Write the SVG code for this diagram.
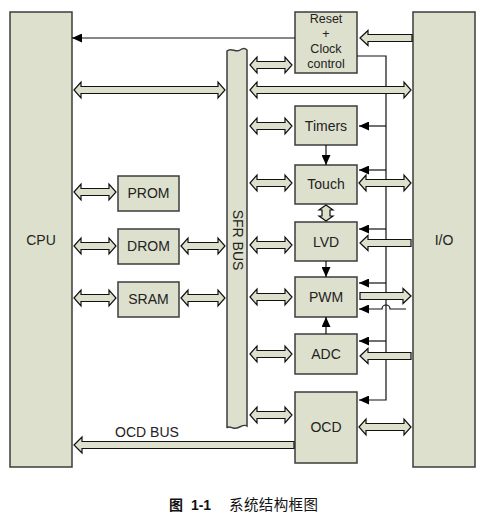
<svg xmlns="http://www.w3.org/2000/svg" width="486" height="515" viewBox="0 0 486 515">
<defs>
<style>
.box{fill:#dde0cc;stroke:#3c3c3c;stroke-width:1.5}
.ha{fill:#dde0cc;stroke:#111;stroke-width:1.2;stroke-linejoin:miter}
.ln{fill:none;stroke:#111;stroke-width:1.2}
.t{font-family:"Liberation Sans",Arial,sans-serif;font-size:14px;fill:#222;text-anchor:middle}
.rs{font-size:12.5px}
</style>
<marker id="ah" markerWidth="10" markerHeight="9" refX="10" refY="4.5" orient="auto" markerUnits="userSpaceOnUse"><path d="M0,0 L10,4.5 L0,9 Z" fill="#000"/></marker>
</defs>
<rect width="486" height="515" fill="#fff"/>

<g id="cpu"><rect class="box" x="10" y="12" width="62" height="455"/><text class="t" x="41" y="245">CPU</text></g>
<g id="io"><rect class="box" x="413" y="12" width="62" height="455"/><text class="t" x="444" y="245">I/O</text></g>
<g id="sfrbus"><path class="box" d="M227,51 C231,47 236,53 240,50 C243,48 245,48 247,50 L247,426 C243,423 238,430 233,428 C230,427 228,426 227,428 Z"/><text class="t" transform="translate(233,240) rotate(90)">SFR  BUS</text></g>
<g id="reset"><rect class="box" x="295" y="12" width="62" height="61"/>
<text class="t rs" x="326" y="23">Reset</text><text class="t rs" x="326" y="38">+</text><text class="t rs" x="326" y="53">Clock</text><text class="t rs" x="326" y="68">control</text></g>
<g id="timers"><rect class="box" x="295" y="106" width="62" height="39"/><text class="t" x="326" y="131">Timers</text></g>
<g id="touch"><rect class="box" x="295" y="165" width="62" height="39"/><text class="t" x="326" y="189">Touch</text></g>
<g id="lvd"><rect class="box" x="295" y="222" width="62" height="39"/><text class="t" x="326" y="247">LVD</text></g>
<g id="pwm"><rect class="box" x="295" y="277" width="62" height="40"/><text class="t" x="326" y="302">PWM</text></g>
<g id="adc"><rect class="box" x="295" y="334" width="62" height="40"/><text class="t" x="326" y="359">ADC</text></g>
<g id="ocd"><rect class="box" x="295" y="392" width="62" height="71"/><text class="t" x="326" y="432">OCD</text></g>
<g id="prom"><rect class="box" x="118" y="176" width="61" height="35"/><text class="t" x="148.5" y="198">PROM</text></g>
<g id="drom"><rect class="box" x="118" y="229" width="61" height="35"/><text class="t" x="148.5" y="251">DROM</text></g>
<g id="sram"><rect class="box" x="118" y="282" width="61" height="35"/><text class="t" x="148.5" y="304">SRAM</text></g>

<g id="connectors">
<path class="ln" d="M295,38 H72" marker-end="url(#ah)"/>
<path class="ln" d="M357,56 H386 V400 H359" marker-end="url(#ah)"/>
<path class="ln" d="M386,126 H359" marker-end="url(#ah)"/>
<path class="ln" d="M386,170 H359" marker-end="url(#ah)"/>
<path class="ln" d="M386,229 H359" marker-end="url(#ah)"/>
<path class="ln" d="M386,283 H359" marker-end="url(#ah)"/>
<path class="ln" d="M386,341 H359" marker-end="url(#ah)"/>
<path class="ln" d="M406,309 H390 A4,4 0 0 0 382,309 H359" marker-end="url(#ah)"/>
<path class="ln" d="M326,145 V165" marker-end="url(#ah)"/>
<path class="ln" d="M326,261 V277" marker-end="url(#ah)"/>
<path class="ln" d="M326,334 V317" marker-end="url(#ah)"/>

<path class="ha" d="M74,90 L81,82 L81,86.5 L218,86.5 L218,82 L225,90 L218,98 L218,93.5 L81,93.5 L81,98 Z"/>
<path class="ha" d="M250,90 L257,82 L257,86.5 L404,86.5 L404,82 L411,90 L404,98 L404,93.5 L257,93.5 L257,98 Z"/>
<path class="ha" d="M250,65 L257,57 L257,61.5 L285,61.5 L285,57 L292,65 L285,73 L285,68.5 L257,68.5 L257,73 Z"/>
<path class="ha" d="M250,126 L257,118 L257,122.5 L285,122.5 L285,118 L292,126 L285,134 L285,129.5 L257,129.5 L257,134 Z"/>
<path class="ha" d="M250,183 L257,175 L257,179.5 L285,179.5 L285,175 L292,183 L285,191 L285,186.5 L257,186.5 L257,191 Z"/>
<path class="ha" d="M359,183 L366,175 L366,179.5 L404,179.5 L404,175 L411,183 L404,191 L404,186.5 L366,186.5 L366,191 Z"/>
<path class="ha" d="M250,245 L257,237 L257,241.5 L285,241.5 L285,237 L292,245 L285,253 L285,248.5 L257,248.5 L257,253 Z"/>
<path class="ha" d="M250,297 L257,289 L257,293.5 L285,293.5 L285,289 L292,297 L285,305 L285,300.5 L257,300.5 L257,305 Z"/>
<path class="ha" d="M250,354 L257,346 L257,350.5 L285,350.5 L285,346 L292,354 L285,362 L285,357.5 L257,357.5 L257,362 Z"/>
<path class="ha" d="M250,415 L257,407 L257,411.5 L285,411.5 L285,407 L292,415 L285,423 L285,418.5 L257,418.5 L257,423 Z"/>
<path class="ha" d="M359,427 L366,419 L366,423.5 L404,423.5 L404,419 L411,427 L404,435 L404,430.5 L366,430.5 L366,435 Z"/>
<path class="ha" d="M74,192 L81,184 L81,188.5 L109,188.5 L109,184 L116,192 L109,200 L109,195.5 L81,195.5 L81,200 Z"/>
<path class="ha" d="M74,246 L81,238 L81,242.5 L109,242.5 L109,238 L116,246 L109,254 L109,249.5 L81,249.5 L81,254 Z"/>
<path class="ha" d="M181,246 L188,238 L188,242.5 L218,242.5 L218,238 L225,246 L218,254 L218,249.5 L188,249.5 L188,254 Z"/>
<path class="ha" d="M74,298 L81,290 L81,294.5 L109,294.5 L109,290 L116,298 L109,306 L109,301.5 L81,301.5 L81,306 Z"/>
<path class="ha" d="M181,298 L188,290 L188,294.5 L218,294.5 L218,290 L225,298 L218,306 L218,301.5 L188,301.5 L188,306 Z"/>
<path class="ha" d="M326,205 L333,210 L330,210 L330,216 L333,216 L326,221 L319,216 L322,216 L322,210 L319,210 Z"/>

<path class="ha" d="M360,38 L368,30.5 L368,34.5 L412,34.5 L412,41.5 L368,41.5 L368,45.5 Z"/>
<path class="ha" d="M360,243 L368,235.5 L368,239.5 L411,239.5 L411,246.5 L368,246.5 L368,250.5 Z"/>
<path class="ha" d="M411,296 L403,288.5 L403,292.5 L360,292.5 L360,299.5 L403,299.5 L403,303.5 Z"/>
<path class="ha" d="M360,356 L368,348.5 L368,352.5 L411,352.5 L411,359.5 L368,359.5 L368,363.5 Z"/>
<path class="ha" d="M74,445 L82,437 L82,441.5 L294,441.5 L294,448.5 L82,448.5 L82,453 Z"/>
<text class="t" x="147" y="437">OCD BUS</text>
</g>

<g id="caption">
<text x="169" y="510" style="font-family:'Liberation Sans','Noto Sans CJK SC',sans-serif;font-size:14px;font-weight:bold;fill:#111">图 <tspan dx="4">1-1</tspan></text>
<text x="229" y="510" style="font-family:'Noto Sans CJK SC',sans-serif;font-size:14.5px;fill:#111" textLength="89">系统结构框图</text>
</g>
</svg>
